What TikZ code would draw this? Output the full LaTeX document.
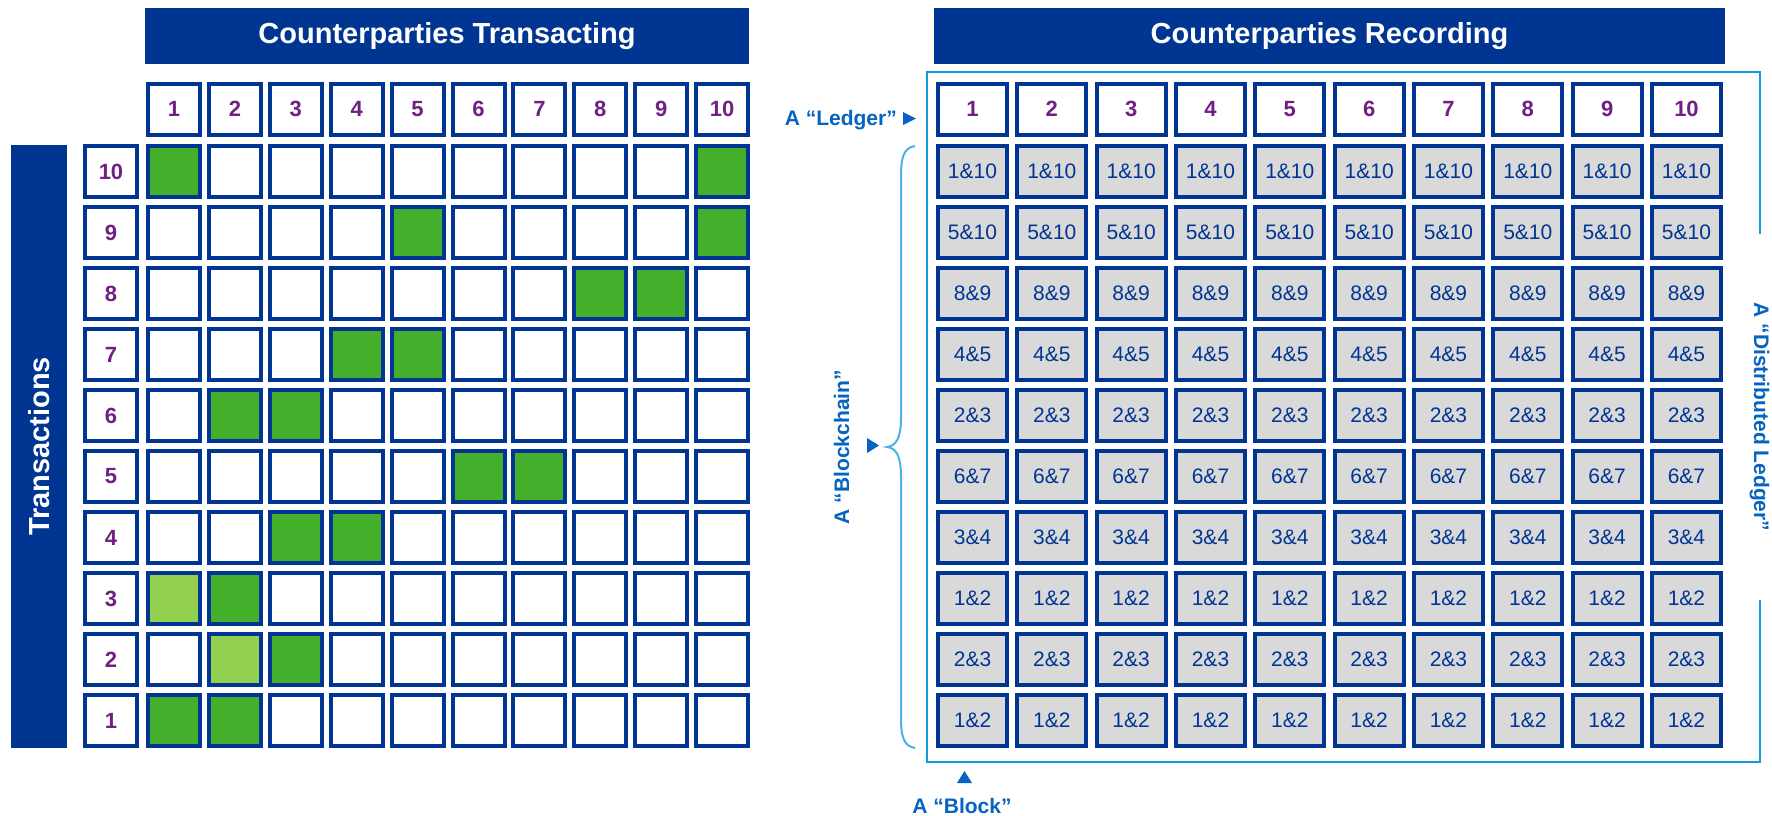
\documentclass[tikz,border=0pt]{standalone}
\usepackage{fontspec}
\setmainfont{Liberation Sans}
\definecolor{barblue}{HTML}{003591}
\definecolor{cellblue}{HTML}{003594}
\definecolor{numpurple}{HTML}{702082}
\definecolor{gdark}{HTML}{43AF2A}
\definecolor{glight}{HTML}{92D050}
\definecolor{cellgrey}{HTML}{D9D9D9}
\definecolor{frameblue}{HTML}{129BDB}
\definecolor{bracecol}{HTML}{4CB1E8}
\definecolor{labelblue}{HTML}{0563C1}
\begin{document}
\begin{tikzpicture}[x=1pt,y=-1pt,
  bar/.style={fill=barblue, text=white, inner sep=0pt,
    font=\fontsize{29}{34}\selectfont\bfseries},
  lcell/.style={draw=cellblue, line width=4pt, fill=white,
    minimum width=52pt, minimum height=51pt, inner sep=0pt},
  rcell/.style={lcell, minimum width=69pt},
  num/.style={text=numpurple, font=\fontsize{22}{26}\selectfont\bfseries},
  entry/.style={fill=cellgrey, text=cellblue, font=\fontsize{21}{25}\selectfont},
  lbl/.style={text=labelblue, inner sep=0pt, font=\fontsize{21}{25}\selectfont\bfseries},
  pointer/.style={fill=labelblue},
  % transactions marked in the left grid: g-<transaction>-<counterparty>
  g-10-1/.style={fill=gdark}, g-10-10/.style={fill=gdark},
  g-9-5/.style={fill=gdark},  g-9-10/.style={fill=gdark},
  g-8-8/.style={fill=gdark},  g-8-9/.style={fill=gdark},
  g-7-4/.style={fill=gdark},  g-7-5/.style={fill=gdark},
  g-6-2/.style={fill=gdark},  g-6-3/.style={fill=gdark},
  g-5-6/.style={fill=gdark},  g-5-7/.style={fill=gdark},
  g-4-3/.style={fill=gdark},  g-4-4/.style={fill=gdark},
  g-3-1/.style={fill=glight}, g-3-2/.style={fill=gdark},
  g-2-2/.style={fill=glight}, g-2-3/.style={fill=gdark},
  g-1-1/.style={fill=gdark},  g-1-2/.style={fill=gdark}
]
\useasboundingbox (0,0) rectangle (1772,815);

% title bars
\node[bar, minimum width=604pt, minimum height=56pt] (hdrL) at (447,36) {Counterparties Transacting};
\node[bar, minimum width=791pt, minimum height=56pt] (hdrR) at (1329.5,36) {Counterparties Recording};
\node[bar, rotate=90, minimum width=603pt, minimum height=56pt] (tx) at (39,446.5) {Transactions};

% left grid: counterparty headers, transaction labels, cells
\foreach \c in {1,...,10} {
  \node[lcell, num] (L-h-\c) at ({174+60.9*(\c-1)},109) {\c};
}
\foreach \t in {1,...,10} {
  \node[lcell, num] (L-r-\t) at (111,{171.5+61*(10-\t)}) {\t};
  \foreach \c in {1,...,10} {
    \node[lcell, g-\t-\c/.try] (L-\t-\c) at ({174+60.9*(\c-1)},{171.5+61*(10-\t)}) {};
  }
}

% right grid: every counterparty records every transaction
\foreach \c in {1,...,10} {
  \node[rcell, num] (R-h-\c) at ({972.5+79.33*(\c-1)},109) {\c};
}
\foreach \t/\pair in {10/1\&10, 9/5\&10, 8/8\&9, 7/4\&5, 6/2\&3, 5/6\&7, 4/3\&4, 3/1\&2, 2/2\&3, 1/1\&2} {
  \foreach \c in {1,...,10} {
    \node[rcell, entry] (R-\t-\c) at ({972.5+79.33*(\c-1)},{171.5+61*(10-\t)}) {\pair};
  }
}

% distributed ledger frame, open where its label sits
\coordinate (fr-a) at (1760,234);
\coordinate (fr-b) at (1760,600);
\draw[frameblue, line width=2.5pt] (fr-a) -- (1760,72) -- (927,72) -- (927,762) -- (1760,762) -- (fr-b);
\node[lbl, rotate=-90, anchor=base] (dl) at (1754,417) {A “Distributed Ledger”};

% ledger label
\node[lbl, anchor=base east] (ledger) at (897,125.5) {A “Ledger”};
\fill[pointer] (903,112) -- (916,118.5) -- (903,125) -- cycle;

% blockchain brace and label
\coordinate (br-top) at (915,146);
\coordinate (br-tip) at (887,447);
\coordinate (br-bot) at (915,748);
\draw[bracecol, line width=2pt]
  (br-top) .. controls (903,148) and (901,158) .. (901,178) -- (901,418)
  .. controls (901,438) and (896,446) .. (br-tip)
  .. controls (896,448) and (901,456) .. (901,476) -- (901,716)
  .. controls (901,736) and (903,746) .. (br-bot);
\fill[pointer] (867,438) -- (879,445.5) -- (867,453) -- cycle;
\node[lbl, rotate=90, anchor=base] (chain) at (849,447) {A “Blockchain”};

% block label
\fill[pointer] (957,783) -- (964.5,771) -- (972,783) -- cycle;
\node[lbl, anchor=base] (block) at (962,813) {A “Block”};
\end{tikzpicture}
\end{document}
